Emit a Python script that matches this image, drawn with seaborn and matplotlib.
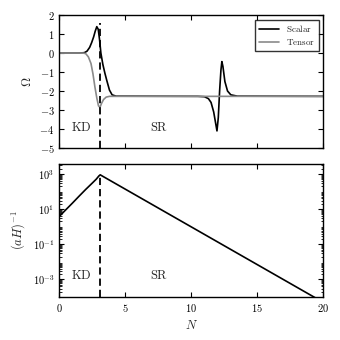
import numpy as np
import pandas as pd
import seaborn as sns
from matplotlib import pyplot as plt
from matplotlib.ticker import LogLocator, NullFormatter, MultipleLocator

# Werte
n_scalar = [0, 1.5, 1.9, 2.1, 2.3, 2.45, 2.6, 2.72, 2.84, 2.95, 3.05, 3.15, 3.3, 3.45,
            3.6, 3.8, 4.0, 4.3, 10.5, 11.0, 11.3, 11.5, 11.7, 11.85, 11.95, 12.05,
            12.15, 12.25, 12.32, 12.4, 12.55, 12.75, 13.0, 13.5, 20]
omega_scalar = [0, 0, 0.02, 0.1, 0.3, 0.55, 0.85, 1.15, 1.39, 1.25, 0.7, 0.0, -0.6, -1.05,
                -1.45, -1.95, -2.2, -2.27, -2.28, -2.3, -2.4, -2.6, -3.1, -3.7, -4.1, -3.4,
                -2.0, -0.9, -0.45, -0.7, -1.5, -2.0, -2.2, -2.27, -2.28]

n_tensor = [0, 1.8, 2.0, 2.2, 2.4, 2.55, 2.7, 2.85, 2.97, 3.08, 3.2, 3.35, 3.55, 3.8, 20]
omega_tensor = [0, 0, -0.03, -0.2, -0.55, -1.1, -1.8, -2.4, -2.78, -2.86, -2.65, -2.45,
                -2.32, -2.28, -2.28]

n_hubble = [0, 0.5, 1.0, 1.5, 2.0, 2.5, 2.8, 3.0, 3.1, 3.3, 20]
hubble_inv = [3.8, 9.2, 22, 54, 130, 300, 500, 760, 880, 720, 5.0e-5]

n_kd_end = 3.1
dash_top = 1.6
region_labels = ["KD", "SR"]
region_n = [1.7, 7.6]

sns.set_style("ticks")
plt.rcParams.update({
    "font.family": "serif",
    "font.serif": ["cmr10", "DejaVu Serif"],
    "mathtext.fontset": "cm",
    "axes.formatter.use_mathtext": True,
    "axes.linewidth": 1.0,
    "axes.edgecolor": "black",
    "xtick.direction": "in",
    "ytick.direction": "in",
    "xtick.top": True,
    "ytick.right": True,
    "xtick.major.size": 3.5,
    "ytick.major.size": 3.5,
    "xtick.minor.size": 1.8,
    "ytick.minor.size": 1.8,
    "xtick.labelsize": 7.5,
    "ytick.labelsize": 7.5,
    "xtick.color": "black",
    "ytick.color": "black",
})

df_s = pd.DataFrame({"N": n_scalar, "Omega": omega_scalar})
df_t = pd.DataFrame({"N": n_tensor, "Omega": omega_tensor})
df_h = pd.DataFrame({"N": n_hubble, "H": hubble_inv})

fig = plt.figure(figsize=(3.4, 3.4), dpi=100)
ax1 = fig.add_axes([0.1745, 0.5647, 0.776, 0.391])
ax2 = fig.add_axes([0.1745, 0.1265, 0.776, 0.391])

# oben: Omega
sns.lineplot(data=df_s, x="N", y="Omega", ax=ax1, color="black", lw=1.2,
             label=r"$\mathrm{Scalar}$", sort=False)
sns.lineplot(data=df_t, x="N", y="Omega", ax=ax1, color="#8a8a8a", lw=1.2,
             label=r"$\mathrm{Tensor}$", sort=False)
ax1.vlines(n_kd_end, -5, dash_top, colors="black", linestyles=(0, (4, 2.2)), lw=1.3)
ax1.set_xlim(0, 20)
ax1.set_ylim(-5, 2)
ax1.xaxis.set_major_locator(MultipleLocator(5))
ax1.yaxis.set_major_locator(MultipleLocator(1))
ax1.tick_params(labelbottom=False)
ax1.set_xlabel("")
ax1.set_ylabel(r"$\Omega$", fontsize=9)
for lab, n in zip(region_labels, region_n):
    ax1.text(n, -3.9, r"$\mathrm{%s}$" % lab, ha="center", va="center", fontsize=9)
leg = ax1.legend(loc="upper right", fontsize=6.5, frameon=True, fancybox=False,
                 handlelength=2.2, borderpad=0.4, labelspacing=0.3)
leg.get_frame().set_edgecolor("black")
leg.get_frame().set_linewidth(1.0)

# unten: (aH)^-1
sns.lineplot(data=df_h, x="N", y="H", ax=ax2, color="black", lw=1.2, sort=False)
ax2.set_yscale("log")
ax2.vlines(n_kd_end, 1e-4, max(hubble_inv), colors="black",
           linestyles=(0, (4, 2.2)), lw=1.3)
ax2.set_xlim(0, 20)
ax2.set_ylim(1e-4, 3.6e3)
ax2.xaxis.set_major_locator(MultipleLocator(5))
ax2.yaxis.set_major_locator(LogLocator(base=10, subs=[1.0], numticks=20))
ax2.yaxis.set_minor_locator(LogLocator(base=10, subs=np.arange(2, 10), numticks=20))
ax2.yaxis.set_minor_formatter(NullFormatter())
ax2.set_yticks([1e-3, 1e-1, 1e1, 1e3])
ax2.set_xlabel(r"$N$", fontsize=9)
ax2.set_ylabel(r"$(aH)^{-1}$", fontsize=9)
for lab, n in zip(region_labels, region_n):
    ax2.text(n, 1.6e-3, r"$\mathrm{%s}$" % lab, ha="center", va="center", fontsize=9)

fig.savefig("out.png", dpi=100)
